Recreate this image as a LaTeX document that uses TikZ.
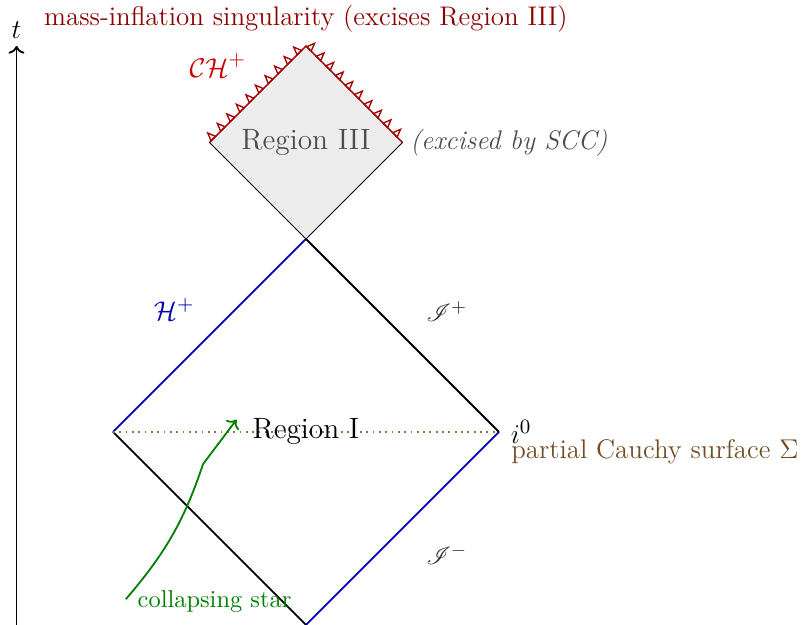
\documentclass[tikz,border=0pt]{standalone}
\usepackage{amsmath}
\usepackage{mathrsfs}
\usepackage{xcolor}
\usepackage{tikz}
\usetikzlibrary{positioning,arrows.meta,decorations.markings}

\begin{document}
\begin{tikzpicture}[
  edge/.style={thick, black},
  horizon/.style={thick, blue!70!black},
  cauchy/.style={thick, dotted, brown!85!black},
  singular/.style={red!65!black, line width=0.5pt,
    postaction={decorate},
    decoration={markings,
      mark=between positions 0.02 and 0.99 step 0.21cm with
        {\draw[red!65!black, line width=0.6pt] (-1.4pt,0) -- (0,3.5pt) -- (1.4pt,0) -- cycle;}}},
  big/.style={font=\fontsize{13}{15}\selectfont},
  mid/.style={font=\fontsize{11.9}{14}\selectfont},
  sml/.style={font=\fontsize{10.8}{13}\selectfont},
  star/.style={thick, green!50!black, ->}
]
\useasboundingbox (-4.757,0) rectangle (7.743,9.715);

% main diamond
\coordinate (bot) at (0,0);
\coordinate (left) at (-3,3);
\coordinate (right) at (3,3);
\coordinate (top) at (0,6);
% region III
\coordinate (IIIleft) at (-1.5,7.5);
\coordinate (IIIright) at (1.5,7.5);
\coordinate (IIItop) at (0,9);

% time axis
\coordinate (tbase) at (-4.5,0);
\coordinate (tend) at (-4.5,9);
\draw[thick, ->] (tbase) -- (tend);
\node[above=0pt of tend, big] (tlbl) {$t$};

\filldraw[fill=gray!15, draw=black] (top) -- (IIIleft) -- (IIItop) -- (IIIright) -- cycle;
\draw[singular] (IIIleft) -- (IIItop) -- (IIIright);

\draw[horizon] (left) -- (top);
\draw[edge] (top) -- (right);
\draw[horizon] (bot) -- (right);
\draw[edge] (left) -- (bot);
\draw[cauchy] (left) -- (right);

\node[big, text=black!70] (r3) at (0,7.5) {Region III};
\node[big] (r1) at (0,3) {Region I};
\node[right=0pt of IIIright, mid, text=black!70] (scc) {\textit{(excised by SCC)}};
\node[mid, red!55!black] (minf) at (0,9.43) {mass-inflation singularity (excises Region III)};
\node[big, red!80!black] (ch) at (-1.37,8.7) {$\mathcal{CH}^+$};
\node[big, blue!70!black] (hp) at (-2.05,4.9) {$\mathcal{H}^+$};
\node[sml, black!80] (scrip) at (2.19,4.87) {$\mathscr{I}^+$};
\node[sml, black!80] (scrim) at (2.19,1.09) {$\mathscr{I}^-$};
\node[right, big, xshift=0.6mm] (izero) at (right) {$i^0$};
\node[below right, mid, brown!60!black, inner sep=3pt, xshift=0.8mm] (sigma) at (right) {partial Cauchy surface $\Sigma$};

\coordinate (starbase) at (-2.8,0.4);
\coordinate (starmid) at (-1.6,2.5);
\coordinate (startip) at (-1.08,3.19);
\draw[star] (starbase) .. controls (-2.2,1.1) and (-1.9,1.6) .. (starmid) -- (startip);
\node[right=0pt of starbase, sml, green!50!black, yshift=-1pt, xshift=0.6mm] (starlbl) {collapsing star};
\end{tikzpicture}
\end{document}
